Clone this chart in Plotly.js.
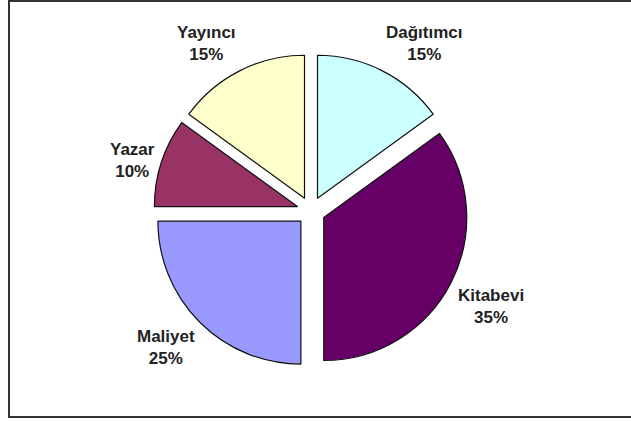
<!DOCTYPE html>
<html>
<head>
<meta charset="utf-8">
<script src="https://cdn.plot.ly/plotly-3.0.1.min.js"></script>
<style>
  html, body { margin: 0; padding: 0; background: #fff; }
  #frame { position: absolute; left: 8px; top: 0px; width: 640px; height: 418px; border: 2px solid #333; box-sizing: border-box; }
  #chart { position: absolute; left: 0; top: 0; width: 631px; height: 421px; }
</style>
</head>
<body>
<div id="frame"></div>
<div id="chart"></div>
<script>
const labels = ["Dağıtımcı", "Kitabevi", "Maliyet", "Yazar", "Yayıncı"];
const values = [15, 35, 25, 10, 15];
const colors = ["#CCFFFF", "#660066", "#9999FF", "#993366", "#FFFFCC"];

// layout geometry (pixels)
const W = 631, H = 421;
const PIE = { cx: 311, cy: 211, r: 143, pull: [0.1, 0.1, 0.1, 0.1, 0.1] };
const LABEL_GAP = 6;   // distance of the label box corner beyond the pulled arc

function domainFor(g) {
  const half = g.r * (1 + Math.max.apply(null, g.pull));
  return {
    x: [(g.cx - half) / W, (g.cx + half) / W],
    y: [1 - (g.cy + half) / H, 1 - (g.cy - half) / H]
  };
}

const pie = {
  type: "pie",
  labels: labels,
  values: values,
  sort: false,
  direction: "clockwise",
  rotation: 0,
  pull: PIE.pull,
  domain: domainFor(PIE),
  marker: { colors: colors, line: { color: "#111", width: 1.2 } },
  textinfo: "none",
  showlegend: false,
  hoverinfo: "label+percent"
};

// outside data labels, placed Excel-style at each slice's mid angle
const total = values.reduce((a, b) => a + b, 0);
let cum = 0;
const annotations = labels.map((lab, i) => {
  const mid = (cum + values[i] / 2) / total * 2 * Math.PI;
  cum += values[i];
  const s = Math.sin(mid), c = Math.cos(mid);
  const d = PIE.r * (1 + PIE.pull[i]) + LABEL_GAP;
  const px = PIE.cx + d * s, py = PIE.cy - d * c;
  return {
    xref: "paper", yref: "paper",
    x: px / W, y: 1 - py / H,
    xanchor: s > 0 ? "left" : "right",
    yanchor: c > 0.4 ? "bottom" : (c < -0.4 ? "top" : "middle"),
    text: lab + "<br>" + Math.round(values[i] / total * 100) + "%",
    showarrow: false,
    align: "center",
    borderpad: 0,
    font: { family: "Liberation Sans, Arial, sans-serif", size: 17, color: "#222", weight: "bold" }
  };
});

const layout = {
  width: W,
  height: H,
  margin: { l: 0, r: 0, t: 0, b: 0, autoexpand: false },
  paper_bgcolor: "rgba(0,0,0,0)",
  plot_bgcolor: "rgba(0,0,0,0)",
  showlegend: false,
  annotations: annotations
};

Plotly.newPlot("chart", [pie], layout, { displayModeBar: false, staticPlot: true });
</script>
</body>
</html>
